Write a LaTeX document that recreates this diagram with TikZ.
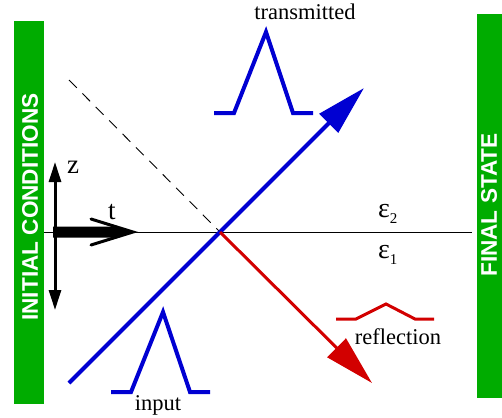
\documentclass[tikz,border=0pt]{standalone}
\usepackage{fontspec}
\setmainfont{Liberation Serif}
\newfontfamily\barfont{Liberation Sans}
\usetikzlibrary{arrows.meta}
\definecolor{barg}{RGB}{0,172,0}
\definecolor{pblue}{RGB}{0,0,210}
\definecolor{pred}{RGB}{210,0,0}
\tikzset{
  bartext/.style={rotate=90, text=white, inner sep=0pt,
    font=\barfont\bfseries\fontsize{22.6}{24}\selectfont},
  lbl/.style={inner sep=0pt, font=\fontsize{22.5}{24}\selectfont},
  axlbl/.style={inner sep=0pt, anchor=base west, font=\fontsize{27}{29}\selectfont},
  epslbl/.style={inner sep=0pt, anchor=base west, font=\fontsize{28}{30}\selectfont},
  bigtip/.style={-{Triangle[length=50pt,width=26pt]}},
  pulse/.style={line width=4pt, miter limit=10},
}
\begin{document}
\begin{tikzpicture}[x=1pt,y=-1pt]
\useasboundingbox (0,0) rectangle (502,417);
% green bars
\fill[barg] (14,21) rectangle (44,404);
\fill[barg] (477,14) rectangle (502,398);
\node[bartext] (ic) at (30,207) {INITIAL CONDITIONS};
\node[bartext] (fs) at (489,205) {FINAL STATE};
% coordinates
\coordinate (hl) at (44,232);
\coordinate (hr) at (472,232);
\coordinate (cross) at (220,232);
\coordinate (dstart) at (69,80);
\coordinate (bstart) at (69,383);
\coordinate (btip) at (364,88);
\coordinate (rtip) at (372,383);
\coordinate (ztop) at (55,162);
\coordinate (zbot) at (55,310);
% interface line
\draw[line width=1pt] (hl) -- (hr);
% dashed continuation
\draw[line width=0.9pt, dash pattern=on 11pt off 8pt] (dstart) -- (cross);
% transmitted (blue) and reflected (red) rays
\draw[pblue, line width=4pt, bigtip] (bstart) -- (btip);
\draw[pred, line width=3pt, bigtip] (cross) -- (rtip);
% z axis
\draw[line width=3pt, {Triangle[length=20pt,width=12pt]}-{Triangle[length=20pt,width=12pt]}] (ztop) -- (zbot);
% t axis (thick arrow with open barb)
\coordinate (tstart) at (53,232);
\coordinate (ttip) at (133,232);
\fill (53,226.5) -- (116,226.5) -- (ttip) -- (116,237.5) -- (53,237.5) -- cycle;
\draw[line width=3pt, line cap=round, line join=miter] (91,219) -- (ttip) -- (91,245);
\node[axlbl] (zl) at (67,173) {z};
\node[axlbl] (tl) at (108,219) {t};
% epsilons
\node[epslbl] (e2) at (378,217) {ε\raisebox{-6pt}{\fontsize{15}{15}\selectfont 2}};
\node[epslbl] (e1) at (378,258) {ε\raisebox{-6pt}{\fontsize{15}{15}\selectfont 1}};
% pulses
\draw[pblue, pulse] (111,392) -- (131,392) -- (163,312) -- (190,392) -- (210,392);
\draw[pblue, pulse] (214,113) -- (234,113) -- (266,32) -- (293,113) -- (313,113);
\draw[pred, line width=3pt] (336,319) -- (356,319) -- (386,304) -- (415,319) -- (434,319);
% labels
\node[lbl, anchor=base] (inp) at (158,410) {input};
\node[lbl, anchor=base] (trn) at (305,20) {transmitted};
\node[lbl, anchor=base] (ref) at (398,344) {reflection};
\end{tikzpicture}
\end{document}
